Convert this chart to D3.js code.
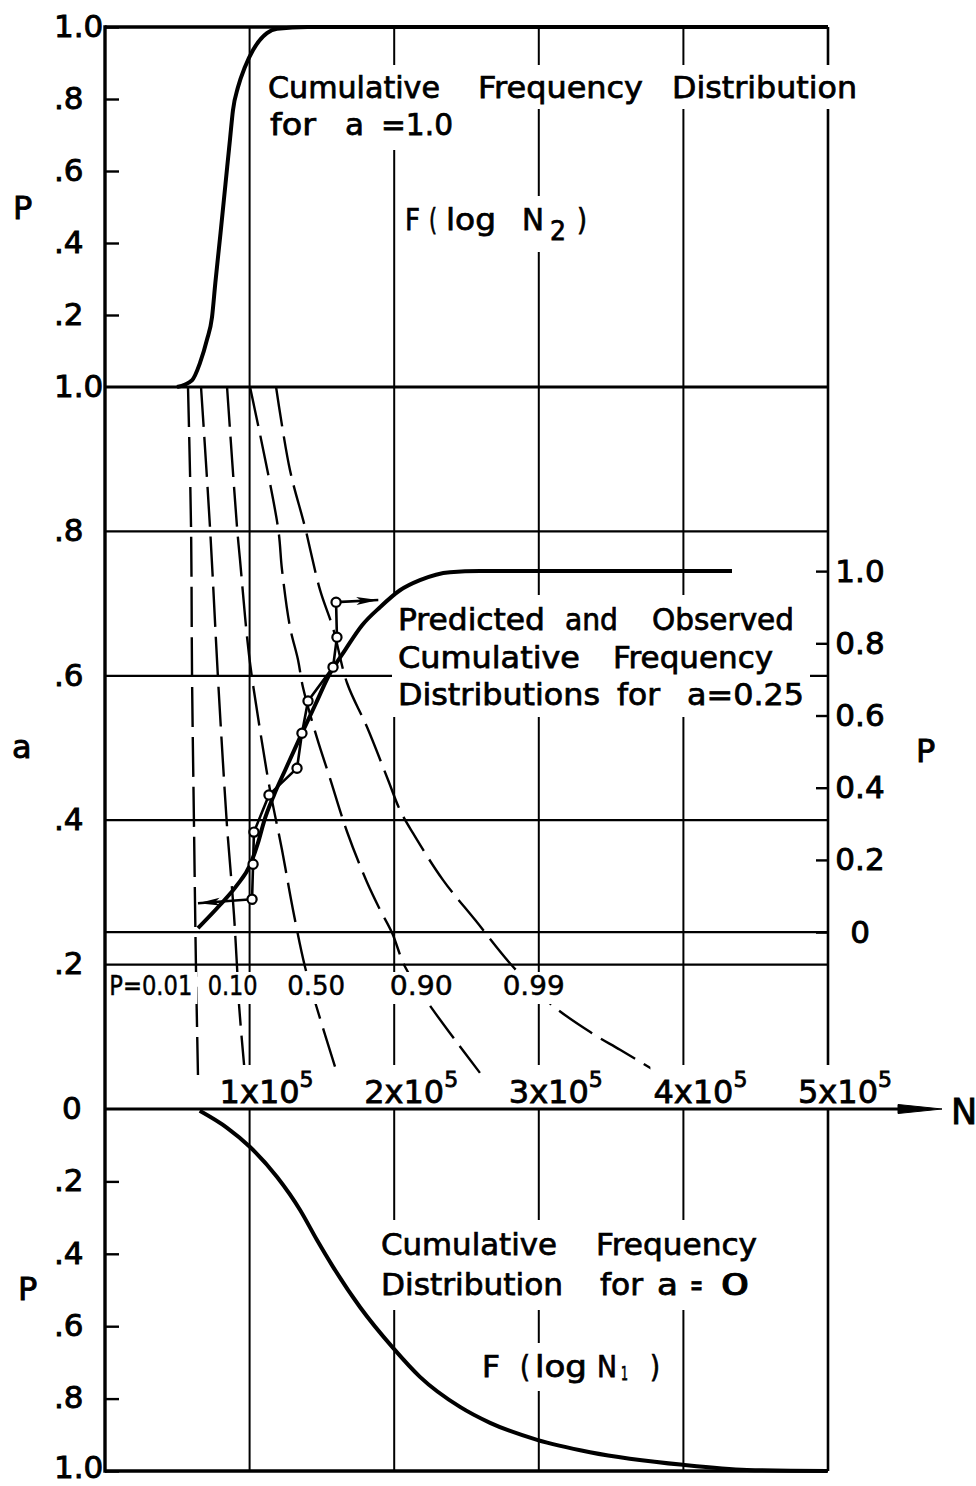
<!DOCTYPE html>
<html>
<head>
<meta charset="utf-8">
<script src="https://cdn.jsdelivr.net/npm/d3@7/dist/d3.min.js"></script>
<style>
html,body{margin:0;padding:0;background:#fff;}
svg{display:block;}
text{font-family:"DejaVu Sans","Liberation Sans",sans-serif;fill:#000;stroke:#000;}
.t30{font-size:30px;stroke-width:0.75px;}
.tick text{font-size:31px;stroke-width:0.9px;}
.prow{font-size:27px;stroke-width:0.5px;}
.ntick{font-size:32px;stroke-width:0.8px;}
.title{font-size:32px;stroke-width:0.9px;}
</style>
</head>
<body>
<svg id="chart" width="976" height="1486"></svg>
<script>
// ---------------- data (N in units of 10^5 cycles) ----------------
const nTicks = [1, 2, 3, 4, 5];
const nTickLabels = ["1x10", "2x10", "3x10", "4x10", "5x10"];
const nTickExp = "5";
const nGrid = [1, 2, 3, 4];

const topPTicks = [0.2, 0.4, 0.6, 0.8, 1.0];
const topPLabels = [".2", ".4", ".6", ".8", "1.0"];
const aTicks = [0, 0.2, 0.4, 0.6, 0.8, 1.0];
const aLabels = ["0", ".2", ".4", ".6", ".8", "1.0"];
const aGrid = [0.2, 0.4, 0.6, 0.8];
const botPTicks = [0.2, 0.4, 0.6, 0.8, 1.0];
const botPLabels = [".2", ".4", ".6", ".8", "1.0"];
const rightPTicks = [0, 0.2, 0.4, 0.6, 0.8, 1.0];
const rightPLabels = ["0", "0.2", "0.4", "0.6", "0.8", "1.0"];
const rightPAtA = [0.245, 0.745];   // a-levels where right-hand P = 0 and P = 1

// F(log N2), a = 1.0 (top panel)
const topN = [0.498, 0.602, 0.657, 0.705, 0.740, 0.763, 0.799, 0.822, 0.845, 0.864, 0.885, 0.920, 0.968, 1.024, 1.120, 1.190, 1.400, 5.0];
const topP = [0.000, 0.019, 0.067, 0.131, 0.194, 0.289, 0.428, 0.519, 0.611, 0.686, 0.769, 0.833, 0.889, 0.936, 0.983, 0.995, 1.000, 1.0];

// F(log N1), a = 0 (bottom panel)
const botN = [0.655, 0.844, 1.003, 1.190, 1.349, 1.466, 1.577, 1.763, 1.992, 2.178, 2.455, 2.663, 2.988, 3.354, 3.997, 4.440, 4.993];
const botP = [0.005, 0.052, 0.105, 0.188, 0.279, 0.362, 0.436, 0.547, 0.660, 0.740, 0.823, 0.867, 0.914, 0.948, 0.983, 0.997, 1.000];

// predicted distribution for a = 0.25 (right-hand P axis)
const predN = [0.643, 0.795, 0.913, 1.003, 1.058, 1.100, 1.169, 1.252, 1.362, 1.459, 1.542, 1.660, 1.778, 1.902, 2.040, 2.178, 2.386, 2.593, 4.336];
const predP = [0.011, 0.075, 0.130, 0.186, 0.247, 0.307, 0.380, 0.454, 0.551, 0.634, 0.706, 0.781, 0.850, 0.900, 0.947, 0.975, 0.997, 1.000, 1.000];

// observed distribution for a = 0.25
const obsN = [1.017, 1.024, 1.030, 1.134, 1.328, 1.362, 1.404, 1.577, 1.604, 1.598];
const obsP = [0.091, 0.188, 0.277, 0.380, 0.454, 0.551, 0.640, 0.734, 0.817, 0.914];
const arrowLow = [0.643, 0.080];   // tip of left arrow (N, P)
const arrowHigh = [1.890, 0.920];  // tip of right arrow (N, P)

// constant-probability lines (N vs a)
const pLevels = ["P=0.01", "0.10", "0.50", "0.90", "0.99"];
const p01N = [0.574, 0.595, 0.602, 0.615, 0.629, 0.643];
const p01A = [1.0, 0.806, 0.598, 0.400, 0.197, 0.047];
const p10N = [0.664, 0.726, 0.781, 0.816, 0.844, 0.871, 0.892, 0.913, 0.927, 0.968];
const p10A = [1.0, 0.806, 0.598, 0.479, 0.391, 0.324, 0.269, 0.197, 0.144, 0.047];
const p50N = [0.844, 0.913, 0.934, 0.996, 1.072, 1.141, 1.224, 1.300, 1.383, 1.459, 1.604];
const p50A = [1.0, 0.806, 0.760, 0.629, 0.525, 0.442, 0.359, 0.276, 0.197, 0.144, 0.050];
const p90N = [1.003, 1.196, 1.224, 1.279, 1.335, 1.369, 1.466, 1.556, 1.674, 1.812, 1.902, 1.985, 2.075, 2.234, 2.420, 2.593];
const p90A = [1.0, 0.806, 0.747, 0.668, 0.622, 0.584, 0.514, 0.458, 0.384, 0.314, 0.276, 0.244, 0.197, 0.147, 0.096, 0.050];
const p99N = [1.183, 1.279, 1.383, 1.487, 1.577, 1.674, 1.812, 1.957, 2.040, 2.130, 2.338, 2.559, 2.822, 3.091, 3.368, 3.562, 3.852];
const p99A = [1.0, 0.885, 0.806, 0.719, 0.666, 0.590, 0.529, 0.456, 0.414, 0.382, 0.317, 0.262, 0.197, 0.144, 0.105, 0.082, 0.047];
// label positions of the P-levels along the a = 0.2 line (N units)
const pLabelN = [0.03, 0.71, 1.26, 1.97, 2.75];

// ---------------- layout ----------------
const svg = d3.select("#chart");
const X0 = 105, X1 = 828, YT = 27, YAT = 387, YAB = 1109, YB = 1471;
const x = d3.scaleLinear().domain([0, 5]).range([X0, X1]);
const yTop = d3.scaleLinear().domain([0, 1]).range([YAT, YT]);
const yA = d3.scaleLinear().domain([0, 1]).range([YAB, YAT]);
const yBot = d3.scaleLinear().domain([0, 1]).range([YAB, YB]);
const yR = d3.scaleLinear().domain([0, 1]).range([yA(rightPAtA[0]), yA(rightPAtA[1])]);

const defs = svg.append("defs");
defs.append("marker").attr("id", "ah").attr("viewBox", "0 0 22 10")
  .attr("refX", 22).attr("refY", 5).attr("markerWidth", 22).attr("markerHeight", 10)
  .attr("markerUnits", "userSpaceOnUse").attr("orient", "auto")
  .append("path").attr("d", "M0,1 L22,5 L0,9 L5,5 Z").attr("fill", "#000");

const gGrid = svg.append("g").attr("stroke", "#000").attr("fill", "none");
const gDash = svg.append("g").attr("stroke", "#000").attr("fill", "none");
const gBg = svg.append("g").attr("fill", "#fff");
const gCurve = svg.append("g").attr("stroke", "#000").attr("fill", "none");
const gAxis = svg.append("g");
const gText = svg.append("g");

// grid
gGrid.selectAll("line.v").data(nGrid).join("line").attr("class", "v")
  .attr("x1", d => x(d)).attr("x2", d => x(d)).attr("y1", YT).attr("y2", YB).attr("stroke-width", 2);
gGrid.append("line").attr("x1", x(5)).attr("x2", x(5)).attr("y1", YT).attr("y2", YB).attr("stroke-width", 2.6);
gGrid.selectAll("line.h").data(aGrid).join("line").attr("class", "h")
  .attr("x1", X0).attr("x2", X1).attr("y1", d => yA(d)).attr("y2", d => yA(d)).attr("stroke-width", 2.2);
gGrid.append("line").attr("x1", X0).attr("x2", X1).attr("y1", yA(1)).attr("y2", yA(1)).attr("stroke-width", 3);
gGrid.append("line").attr("x1", X0).attr("x2", X1).attr("y1", yR(0)).attr("y2", yR(0)).attr("stroke-width", 2.4);
gGrid.append("line").attr("x1", X0).attr("x2", X1).attr("y1", YT).attr("y2", YT).attr("stroke-width", 3.4);
gGrid.append("line").attr("x1", X0).attr("x2", X1).attr("y1", YB).attr("y2", YB).attr("stroke-width", 3.4);

// dashed constant-P lines
const dashLine = d3.line().x(d => x(d[0])).y(d => yA(d[1])).curve(d3.curveCatmullRom.alpha(0.5));
[[p01N, p01A], [p10N, p10A], [p50N, p50A], [p90N, p90A], [p99N, p99A]].forEach(([n, a]) => {
  gDash.append("path").attr("d", dashLine(d3.zip(n, a)))
    .attr("stroke-width", 2.4).attr("stroke-dasharray", "40,10");
});

// ---------------- texts ----------------
const bgBoxes = [];
function addLine(parts, base, cls, pad) {
  const g = gText.append("g").attr("class", cls);
  parts.forEach(p => {
    const t = g.append("text").attr("x", p[1]).attr("y", base + (p[3] || 0)).text(p[0]);
    if (p[2]) t.attr("textLength", p[2] - p[1]).attr("lengthAdjust", "spacingAndGlyphs");
    if (p[4]) t.style("font-size", p[4] + "px");
  });
  bgBoxes.push([g, pad || [5, 5, 5, 5]]);
  return g;
}

// top panel
addLine([["Cumulative", 268, 440], ["Frequency", 478, 643], ["Distribution", 672, 857]], 98, "t30", [5, 6, 4, 4]);
addLine([["for", 270, 316], ["a", 345, 364], ["=1.0", 381, 453]], 135, "t30", [4, 6, 8, 4]);
addLine([["F", 405, 420], ["(", 429, 437], ["log", 446, 496], ["N", 522, 544], ["2", 550, 566, 10, 26], [")", 577, 587]], 230, "t30", [6, 6, 6, 6]);
// middle panel
addLine([["Predicted", 398, 545], ["and", 565, 618], ["Observed", 652, 794]], 630, "t30", [7, 6, 4, 6]);
addLine([["Cumulative", 398, 580], ["Frequency", 613, 773]], 668, "t30", [4, 6, 4, 6]);
addLine([["Distributions", 398, 600], ["for", 617, 660], ["a=0.25", 687, 804]], 705, "t30", [4, 6, 5, 6]);
// bottom panel
addLine([["Cumulative", 381, 557], ["Frequency", 596, 757]], 1255, "t30", [7, 6, 4, 6]);
addLine([["Distribution", 381, 563], ["for", 600, 643], ["a", 657, 678], ["=", 690, 703], ["0", 720, 750]], 1295, "t30", [4, 6, 8, 6]);
addLine([["F", 482, 500], ["(", 520, 530], ["log", 535, 587], ["N", 597, 617], ["1", 621, 628, 3, 20], [")", 650, 660]], 1377, "t30", [6, 6, 6, 6]);

// P-level labels
const pLabelWidths = [83, 50, 58, 63, 62];
pLevels.forEach((s, i) => {
  const x0 = x(pLabelN[i]);
  addLine([[s, x0, x0 + pLabelWidths[i]]], 995, "prow", [-2, 5, 3, 5]);
});

// N tick labels (10^5)
const gN = gText.append("g").attr("class", "ntick");
nTicks.forEach((n, i) => {
  const t = gN.append("text").attr("x", x(n) - 30).attr("y", 1103).text(nTickLabels[i]);
  t.append("tspan").attr("dy", -16).style("font-size", "22px").text(nTickExp);
  bgBoxes.push([t, [2, 3, -3, 3]]);
});

// white backgrounds behind texts that sit on the grid
bgBoxes.forEach(([g, p]) => {
  const b = g.node().getBBox();
  gBg.append("rect").attr("x", b.x - p[3]).attr("y", b.y - p[0])
    .attr("width", b.width + p[1] + p[3]).attr("height", b.height + p[0] + p[2]);
});

// ---------------- curves ----------------
// left border and N axis with arrow
gCurve.append("line").attr("x1", X0).attr("x2", X0).attr("y1", YT - 1.7).attr("y2", YB + 1.7).attr("stroke-width", 3.4);
gCurve.append("line").attr("x1", X0).attr("x2", x(5) + 78).attr("y1", yA(0)).attr("y2", yA(0)).attr("stroke-width", 3.2);
gCurve.append("path").attr("d", `M${x(5) + 70},${yA(0) - 4.5} L${x(5) + 114},${yA(0)} L${x(5) + 70},${yA(0) + 4.5} Z`)
  .attr("fill", "#000").attr("stroke-width", 1);

const lineTop = d3.line().x(d => x(d[0])).y(d => yTop(d[1])).curve(d3.curveMonotoneX);
const lineBot = d3.line().x(d => x(d[0])).y(d => yBot(d[1])).curve(d3.curveMonotoneX);
const lineR = d3.line().x(d => x(d[0])).y(d => yR(d[1])).curve(d3.curveMonotoneX);
gCurve.append("path").attr("d", lineTop(d3.zip(topN, topP))).attr("stroke-width", 4);
gCurve.append("path").attr("d", lineBot(d3.zip(botN, botP))).attr("stroke-width", 4);
gCurve.append("path").attr("d", lineR(d3.zip(predN, predP))).attr("stroke-width", 4);

// observed
const obs = d3.zip(obsN, obsP);
const lineObs = d3.line().x(d => x(d[0])).y(d => yR(d[1]));
gCurve.append("path").attr("d", lineObs(obs)).attr("stroke-width", 2.6);
gCurve.append("path").attr("d", lineObs([obs[0], arrowLow])).attr("stroke-width", 2.6).attr("marker-end", "url(#ah)");
gCurve.append("path").attr("d", lineObs([obs[obs.length - 1], arrowHigh])).attr("stroke-width", 2.6).attr("marker-end", "url(#ah)");
gCurve.selectAll("circle").data(obs).join("circle")
  .attr("cx", d => x(d[0])).attr("cy", d => yR(d[1])).attr("r", 4.6)
  .attr("fill", "#fff").attr("stroke-width", 2.2);

// ---------------- axes ----------------
function styleLeft(g) {
  g.select(".domain").remove();
  g.selectAll(".tick line").attr("stroke", "#000").attr("stroke-width", 2.4);
  g.selectAll(".tick text").attr("text-anchor", "start").attr("dy", "0.3em")
    .attr("x", function () { return d3.select(this).text() === "0" ? 62 - X0 : 54 - X0; });
}
const axTop = d3.axisLeft(yTop).tickValues(topPTicks).tickFormat((d, i) => topPLabels[i])
  .tickSizeInner(-14).tickSizeOuter(0).tickPadding(0);
styleLeft(gAxis.append("g").attr("transform", `translate(${X0},0)`).call(axTop));

const axA = d3.axisLeft(yA).tickValues(aTicks).tickFormat((d, i) => aLabels[i])
  .tickSizeInner(0).tickSizeOuter(0).tickPadding(0);
styleLeft(gAxis.append("g").attr("transform", `translate(${X0},0)`).call(axA));

const axBot = d3.axisLeft(yBot).tickValues(botPTicks).tickFormat((d, i) => botPLabels[i])
  .tickSizeInner(-14).tickSizeOuter(0).tickPadding(0);
const gAB = gAxis.append("g").attr("transform", `translate(${X0},0)`).call(axBot);
styleLeft(gAB);
gAB.selectAll(".tick text").filter(d => d === 1).attr("dy", "0.2em");

const axR = d3.axisRight(yR).tickValues(rightPTicks).tickFormat((d, i) => rightPLabels[i])
  .tickSizeInner(-12).tickSizeOuter(0).tickPadding(32);
const gR = gAxis.append("g").attr("transform", `translate(${X1},0)`).call(axR);
gR.select(".domain").remove();
gR.selectAll(".tick line").attr("stroke", "#000").attr("stroke-width", 2.4);
gR.selectAll(".tick text").attr("text-anchor", "middle");
gAxis.selectAll("g").attr("font-family", null).attr("font-size", null);

// axis titles
const gT = gText.append("g").attr("class", "title");
gT.append("text").attr("x", 13).attr("y", 219).text("P");
gT.append("text").attr("x", 12).attr("y", 758).text("a");
gT.append("text").attr("x", 18).attr("y", 1300).text("P");
gT.append("text").attr("x", 916).attr("y", 762).text("P");
gT.append("text").attr("x", 951).attr("y", 1124).style("font-size", "35px").text("N");
</script>
</body>
</html>
